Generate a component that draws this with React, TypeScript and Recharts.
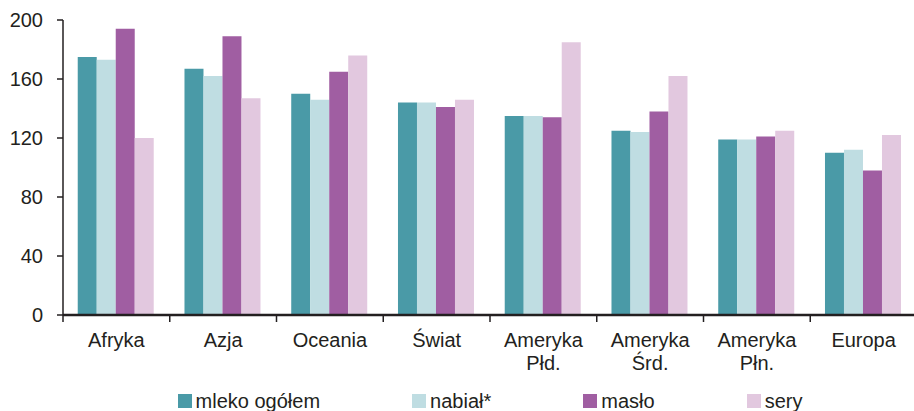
import { Bar, BarChart, XAxis, YAxis, Legend } from "recharts"

const categories = [
  "Afryka",
  "Azja",
  "Oceania",
  "Świat",
  "Ameryka\nPłd.",
  "Ameryka\nŚrd.",
  "Ameryka\nPłn.",
  "Europa",
]
const mleko = [175, 167, 150, 144, 135, 125, 119, 110]
const nabial = [173, 162, 146, 144, 135, 124, 119, 112]
const maslo = [194, 189, 165, 141, 134, 138, 121, 98]
const sery = [120, 147, 176, 146, 185, 162, 125, 122]
const yTicks = [0, 40, 80, 120, 160, 200]

const series = [
  { key: "mleko", name: "mleko ogółem", color: "#4A9AA7" },
  { key: "nabial", name: "nabiał*", color: "#BFDDE2" },
  { key: "maslo", name: "masło", color: "#A05EA2" },
  { key: "sery", name: "sery", color: "#E2C8DF" },
]

const data = categories.map((c, i) => ({
  name: c,
  mleko: mleko[i],
  nabial: nabial[i],
  maslo: maslo[i],
  sery: sery[i],
}))

const W = 914
const H = 411
const Y_W = 63
const MARGIN = { top: 20, right: -3, bottom: 20, left: 0 }
const BAND = (W - Y_W - MARGIN.left - MARGIN.right) / categories.length
const AXIS = "#231F20"
const FONT = "'Liberation Sans', Arial, sans-serif"

const XTick = (props: any) => {
  const { x, y, payload } = props
  const lines = String(payload.value).split("\n")
  const bx = x - BAND / 2
  return (
    <g>
      <line x1={bx} y1={y - 2} x2={bx} y2={y + 5} stroke={AXIS} strokeWidth={1.5} />
      <text x={x} y={y} textAnchor="middle" fill={AXIS} fontSize={20} fontFamily={FONT}>
        {lines.map((l, i) => (
          <tspan key={i} x={x} dy={i === 0 ? 30 : 23}>
            {l}
          </tspan>
        ))}
      </text>
    </g>
  )
}

const LegendBox = () => (
  <div
    style={{
      display: "flex",
      justifyContent: "center",
      alignItems: "center",
      height: 20,
      fontFamily: FONT,
      fontSize: 20,
      color: AXIS,
      whiteSpace: "nowrap",
    }}
  >
    {series.map((s, i) => (
      <div
        key={s.key}
        style={{
          display: "flex",
          alignItems: "center",
          marginRight: i < series.length - 1 ? 92 : 0,
        }}
      >
        <span style={{ width: 14, height: 14, background: s.color, marginRight: 4 }} />
        <span style={{ lineHeight: "20px" }}>{s.name}</span>
      </div>
    ))}
  </div>
)

export default function App() {
  return (
    <div style={{ position: "absolute", left: 0, top: 0, background: "#fff" }}>
      <BarChart width={W} height={H} data={data} margin={MARGIN} barCategoryGap="13.8%" barGap={0}>
        <XAxis
          dataKey="name"
          height={56}
          interval={0}
          tickLine={false}
          tickSize={0}
          tick={<XTick />}
          axisLine={{ stroke: AXIS, strokeWidth: 2.5 }}
        />
        <YAxis
          width={Y_W}
          domain={[0, 200]}
          ticks={yTicks}
          tickSize={6}
          tickMargin={14}
          axisLine={{ stroke: AXIS, strokeWidth: 1.5 }}
          tickLine={{ stroke: AXIS, strokeWidth: 1.5 }}
          tick={{ fill: AXIS, fontSize: 20, fontFamily: FONT }}
        />
        <Legend
          verticalAlign="bottom"
          content={<LegendBox />}
          wrapperStyle={{ bottom: 0, left: Y_W, width: W - Y_W - MARGIN.right }}
        />
        {series.map((s) => (
          <Bar
            key={s.key}
            dataKey={s.key}
            name={s.name}
            fill={s.color}
            isAnimationActive={false}
          />
        ))}
      </BarChart>
    </div>
  )
}
